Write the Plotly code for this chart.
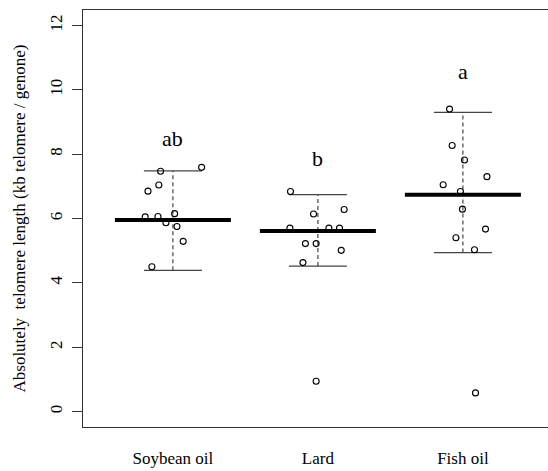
import plotly.graph_objects as go

categories = ["Soybean oil", "Lard", "Fish oil"]

soy_values = [7.59, 7.47, 7.04, 6.85, 6.05, 6.06, 6.15, 5.87, 5.75, 5.29, 4.50]
soy_jitter = [0.198, -0.085, -0.097, -0.172, -0.191, -0.103, 0.012, -0.048, 0.028, 0.071, -0.145]

lard_values = [6.84, 6.28, 6.14, 5.70, 5.70, 5.70, 5.22, 5.22, 5.01, 4.63, 0.94]
lard_jitter = [-0.189, 0.181, -0.030, -0.193, 0.076, 0.149, -0.086, -0.012, 0.161, -0.103, -0.012]

fish_values = [9.40, 8.27, 7.82, 7.30, 7.05, 6.84, 6.29, 5.67, 5.40, 5.03, 0.58]
fish_jitter = [-0.092, -0.074, 0.011, 0.166, -0.136, -0.017, -0.003, 0.156, -0.048, 0.080, 0.087]

group_means = [5.95, 5.61, 6.74]
group_upper = [7.48, 6.74, 9.30]
group_lower = [4.39, 4.52, 4.94]

letters = ["ab", "b", "a"]
letter_y = [8.50, 7.85, 10.56]

y_ticks = [0, 2, 4, 6, 8, 10, 12]

FONT = "Liberation Serif"
MEAN_HALF = 0.40
WHISK_HALF = 0.20

fig = go.Figure()

# dashed vertical lines (lower whisker to upper whisker)
dx, dy = [], []
for i in range(3):
    c = i + 1
    dx += [c, c, None]
    dy += [group_lower[i], group_upper[i], None]
fig.add_trace(go.Scatter(x=dx, y=dy, mode="lines",
                         line=dict(color="#444444", width=1.2, dash="4px,3px"),
                         hoverinfo="skip", showlegend=False))

# whisker caps
wx, wy = [], []
for i in range(3):
    c = i + 1
    for v in (group_upper[i], group_lower[i]):
        wx += [c - WHISK_HALF, c + WHISK_HALF, None]
        wy += [v, v, None]
fig.add_trace(go.Scatter(x=wx, y=wy, mode="lines",
                         line=dict(color="#444444", width=1.2),
                         hoverinfo="skip", showlegend=False))

# mean bars
mx, my = [], []
for i in range(3):
    c = i + 1
    mx += [c - MEAN_HALF, c + MEAN_HALF, None]
    my += [group_means[i], group_means[i], None]
fig.add_trace(go.Scatter(x=mx, y=my, mode="lines",
                         line=dict(color="black", width=4),
                         hoverinfo="skip", showlegend=False))

# jittered points
for i, (vals, jit) in enumerate([(soy_values, soy_jitter),
                                  (lard_values, lard_jitter),
                                  (fish_values, fish_jitter)]):
    fig.add_trace(go.Scatter(
        x=[i + 1 + j for j in jit], y=vals, mode="markers",
        marker=dict(symbol="circle-open", size=6, color="black",
                    line=dict(width=1.1, color="black")),
        showlegend=False))

# significance letters
for i, t in enumerate(letters):
    fig.add_annotation(x=i + 1, y=letter_y[i], text=t, showarrow=False,
                       xanchor="center", yanchor="middle",
                       font=dict(family=FONT, size=22, color="black"))

# y-axis title
fig.add_annotation(xref="paper", yref="paper", x=(19 - 83) / 465, y=0.5,
                   text="Absolutely  telomere length (kb telomere / genone)",
                   textangle=-90, showarrow=False, xanchor="center", yanchor="middle",
                   font=dict(family=FONT, size=17, color="black"))

fig.update_layout(
    width=548, height=471,
    margin=dict(l=83, r=0, t=10, b=44),
    plot_bgcolor="white", paper_bgcolor="white",
    font=dict(family=FONT, size=17, color="black"),
    xaxis=dict(range=[0.38, 3.587], tickmode="array", tickvals=[1, 2, 3],
               ticktext=categories, showgrid=False, zeroline=False,
               showline=True, linecolor="#333333", linewidth=1.3, mirror=True,
               ticks="", ticklabelstandoff=15,
               tickfont=dict(family=FONT, size=17, color="black")),
    yaxis=dict(range=[-0.48, 12.48], tickmode="array", tickvals=y_ticks,
               showgrid=False, zeroline=False, showline=True,
               linecolor="#333333", linewidth=1.3, mirror=False,
               ticks="outside", ticklen=10, tickwidth=1.2, tickcolor="#333333",
               tickangle=-90, ticklabelstandoff=3,
               tickfont=dict(family=FONT, size=17, color="black")),
)

fig.write_html("out.html")
